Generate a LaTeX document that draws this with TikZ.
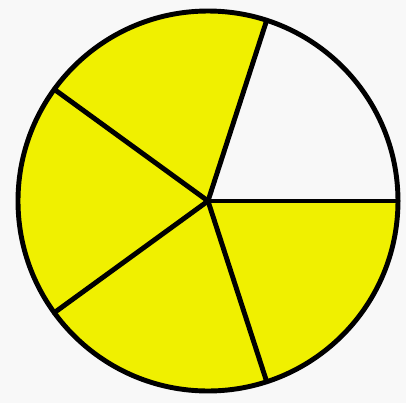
\documentclass[tikz,border=0pt]{standalone}
\usepackage{xcolor}
\usetikzlibrary{calc}
\definecolor{pieyellow}{RGB}{240,240,0}
\definecolor{paper}{RGB}{248,248,248}
\begin{document}
\begin{tikzpicture}[
  slice/.style = {fill=pieyellow},
  rim/.style   = {draw=black, line width=1.4pt},
  spoke/.style = {draw=black, line width=1.4pt, line cap=round},
]
  \fill[paper] (0,0) rectangle (4.06,4.03);
  \useasboundingbox (0,0) rectangle (4.06,4.03);
  \coordinate (c) at (2.08,2.02);
  \foreach \a [count=\i from 0] in {0,72,144,216,288}
    \coordinate (r\i) at ($(c)+(\a:1.9)$);
  % four of five slices coloured
  \foreach \a in {72,144,216,288}
    \fill[slice] (c) -- ++(\a:1.9) arc[start angle=\a, end angle=\a+72, radius=1.9cm] -- cycle;
  \foreach \i in {0,...,4}
    \draw[spoke] (c) -- (r\i);
  \draw[rim] (c) circle[radius=1.9cm];
\end{tikzpicture}
\end{document}
